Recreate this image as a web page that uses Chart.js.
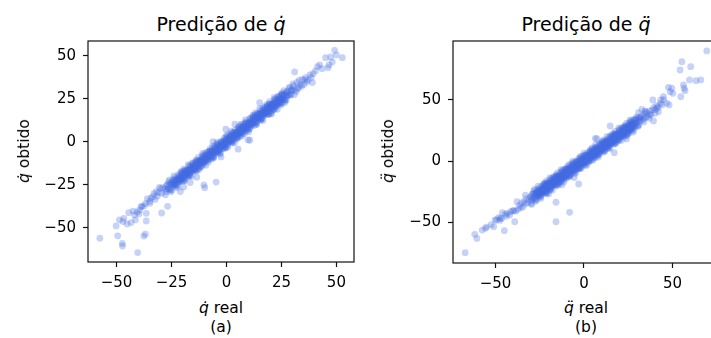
<!DOCTYPE html>
<html>
<head>
<meta charset="utf-8">
<script src="https://cdn.jsdelivr.net/npm/chart.js@4.4.1/dist/chart.umd.min.js"></script>
<style>
  html, body { margin:0; padding:0; background:#fff; }
  body { width:711px; height:338px; overflow:hidden; position:relative; font-family:"DejaVu Sans", sans-serif; color:#000; }
  canvas { position:absolute; }
  .txt { position:absolute; white-space:nowrap; text-align:center; }
  .title { font-size:19px; line-height:22px; width:240px; }
  .lab { font-size:15.5px; line-height:20px; width:160px; }
  .ylab { font-size:15.5px; line-height:20px; transform:translate(-50%,-50%) rotate(-90deg); }
  i { font-style:italic; }
</style>
</head>
<body>
<canvas id="chartA" width="335" height="260" style="left:30px;top:35px"></canvas>
<canvas id="chartB" width="340" height="261" style="left:395px;top:35px"></canvas>

<div class="txt title" style="left:101px;top:13px">Predição de <i>q̇</i></div>
<div class="txt title" style="left:466px;top:13px">Predição de <i>q̈</i></div>
<div class="txt lab" style="left:141px;top:298px"><i>q̇</i> real</div>
<div class="txt lab" style="left:141px;top:317px">(a)</div>
<div class="txt lab" style="left:506px;top:298px"><i>q̈</i> real</div>
<div class="txt lab" style="left:506px;top:317px">(b)</div>
<div class="txt ylab" style="left:24px;top:151px"><i>q̇</i> obtido</div>
<div class="txt ylab" style="left:388px;top:151px"><i>q̈</i> obtido</div>

<script>
// ── (a) velocidade: q̇ real vs q̇ obtido ──────────────────────────────
const ticksXA = [-50, -25, 0, 25, 50];
const ticksYA = [-50, -25, 0, 25, 50];

const coreRealA = [
  -28,-27.5,-27,-26.5,-26,-25.5,-25,-24.5,-24,-23.5,
  -23,-22.5,-22,-21.5,-21,-20.5,-20,-19.5,-19,-18.5,
  -18,-17.5,-17,-16.5,-16,-15.5,-15,-14.5,-14,-13.5,
  -13,-12.5,-12,-11.5,-11,-10.5,-10,-9.5,-9,-8.5,
  -8,-7.5,-7,-6.5,-6,-5.5,-5,-4.5,-4,-3.5,
  -3,-2.5,-2,-1.5,-1,-0.5,0,0.5,1,1.5,
  2,2.5,3,3.5,4,4.5,5,5.5,6,6.5,
  7,7.5,8,8.5,9,9.5,10,10.5,11,11.5,
  12,12.5,13,13.5,14,14.5,15,15.5,16,16.5,
  17,17.5,18,18.5,19,19.5,20,20.5,21,21.5,
  22,22.5,23,23.5,24,24.5,25,25.5,26,26.5,
  27,27.5,28,28.5,29,29.5,30,
  -27.8,-27.3,-26.8,-26.3,-25.8,-25.3,-24.8,-24.3,-23.8,-23.3,
  -22.8,-22.3,-21.8,-21.3,-20.8,-20.3,-19.8,-19.3,-18.8,-18.3,
  -17.8,-17.3,-16.8,-16.3,-15.8,-15.3,-14.8,-14.3,-13.8,-13.3,
  -12.8,-12.3,-11.8,-11.3,-10.8,-10.3,-9.8,-9.3,-8.8,-8.3,
  -7.8,-7.3,-6.8,-6.3,-5.8,-5.3,-4.8,-4.3,-3.8,-3.3,
  -2.8,-2.3,-1.8,-1.3,-0.8,-0.3,0.2,0.7,1.2,1.7,
  2.2,2.7,3.2,3.7,4.2,4.7,5.2,5.7,6.2,6.7,
  7.2,7.7,8.2,8.7,9.2,9.7,10.2,10.7,11.2,11.7,
  12.2,12.7,13.2,13.7,14.2,14.7,15.2,15.7,16.2,16.7,
  17.2,17.7,18.2,18.7,19.2,19.7,20.2,20.7,21.2,21.7,
  22.2,22.7,23.2,23.7,24.2,24.7,25.2,25.7,26.2,26.7,
  27.2,27.7,28.2,28.7,29.2,29.7
];
const corePredA = [
  -27.2,-28.9,-24.9,-27,-24.5,-27.8,-24.8,-23.4,-25,-20.9,
  -24.8,-22,-22.2,-20.7,-22.4,-18.4,-20.5,-18,-21.3,-18.3,
  -16.9,-18.5,-14.4,-18.3,-15.5,-15.7,-14.2,-15.9,-11.9,-14,
  -11.5,-14.8,-11.8,-10.4,-12,-7.9,-11.8,-9,-9.2,-7.7,
  -9.4,-5.4,-7.5,-5,-8.3,-5.3,-3.9,-5.5,-1.4,-5.3,
  -2.5,-2.7,-1.2,-2.9,1.1,-1,1.5,-1.8,1.2,2.6,
  1,5.1,1.2,4,3.8,5.3,3.6,7.6,5.5,8,
  4.7,7.7,9.1,7.5,11.6,7.7,10.5,10.3,11.8,10.1,
  14.1,12,14.5,11.2,14.2,15.6,14,18.1,14.2,17,
  16.8,18.3,16.6,20.6,18.5,21,17.7,20.7,22.1,20.5,
  24.6,20.7,23.5,23.3,24.8,23.1,27.1,25,27.5,24.2,
  27.2,28.6,27,31.1,27.2,30,29.8,
  -30.7,-25.4,-27.5,-23.1,-27.4,-24.4,-28.1,-21.9,-23.9,-22,
  -25,-25.2,-19.9,-22,-17.6,-21.9,-18.9,-22.6,-16.4,-18.4,
  -16.5,-19.5,-19.7,-14.4,-16.5,-12.1,-16.4,-13.4,-17.1,-10.9,
  -12.9,-11,-14,-14.2,-8.9,-11,-6.6,-10.9,-7.9,-11.6,
  -5.4,-7.4,-5.5,-8.5,-8.7,-3.4,-5.5,-1.1,-5.4,-2.4,
  -6.1,0.1,-1.9,0,-3,-3.2,2.1,0,4.4,0.1,
  3.1,-0.6,5.6,3.6,5.5,2.5,2.3,7.6,5.5,9.9,
  5.6,8.6,4.9,11.1,9.1,11,8,7.8,13.1,11,
  15.4,11.1,14.1,10.4,16.6,14.6,16.5,13.5,13.3,18.6,
  16.5,20.9,16.6,19.6,15.9,22.1,20.1,22,19,18.8,
  24.1,22,26.4,22.1,25.1,21.4,27.6,25.6,27.5,24.5,
  24.3,29.6,27.5,31.9,27.6,30.6
];
const denseRealA = [
  -25.9,-25.4,-24.9,-24.4,-23.9,-23.4,-22.9,-22.4,-21.9,-21.4,
  -20.9,-20.4,-19.9,-19.4,-18.9,-18.4,-17.9,-17.4,-16.9,-16.4,
  -15.9,-15.4,-14.9,-14.4,-13.9,-13.4,-12.9,-12.4,-11.9,-11.4,
  -10.9,-10.4,-9.9,-9.4,-8.9,-8.4,-7.9,-7.4,-6.9,-6.4,
  -5.9,-5.4,-4.9,-4.4,-3.9,-3.4,-2.9,-2.4,-1.9,-1.4,
  -0.9,-0.4,0.1,0.6,1.1,1.6,2.1,2.6,3.1,3.6,
  4.1,4.6,5.1,5.6,6.1,6.6,7.1,7.6,8.1,8.6,
  9.1,9.6,10.1,10.6,11.1,11.6,12.1,12.6,13.1,13.6,
  14.1,14.6,15.1,15.6,16.1,16.6,17.1,17.6,18.1,18.6,
  19.1,19.6,20.1,20.6,21.1,21.6,22.1,22.6,23.1,23.6,
  24.1,24.6,25.1,25.6,26.1,26.6,27.1,27.6,
  -21.6,-21.1,-20.6,-20.1,-19.6,-19.1,-18.6,-18.1,-17.6,-17.1,
  -16.6,-16.1,-15.6,-15.1,-14.6,-14.1,-13.6,-13.1,-12.6,-12.1,
  -11.6,-11.1,-10.6,-10.1,-9.6,-9.1,-8.6,-8.1,-7.6,-7.1,
  -6.6,-6.1,-5.6,-5.1,-4.6,-4.1,-3.6,-3.1,-2.6,-2.1,
  -1.6,-1.1,-0.6,-0.1,0.4,0.9,1.4,1.9,2.4,2.9,
  3.4,3.9,4.4,4.9,5.4,5.9,6.4,6.9,7.4,7.9,
  8.4,8.9,9.4,9.9,10.4,10.9,11.4,11.9,12.4,12.9,
  13.4,13.9,14.4,14.9,15.4,15.9,16.4,16.9,17.4,17.9,
  18.4,18.9,19.4,19.9,20.4,20.9,21.4,21.9,22.4,22.9,
  23.4,23.9,24.4,24.9,25.4,
  -24.2,-23.7,-23.2,-22.7,-22.2,-21.7,-21.2,-20.7,-20.2,-19.7,
  -19.2,-18.7,-18.2,-17.7,-17.2,-16.7,-16.2,-15.7,-15.2,-14.7,
  -14.2,-13.7,-13.2,-12.7,-12.2,-11.7,-11.2,-10.7,-10.2,-9.7,
  -9.2,-8.7,-8.2,-7.7,-7.2,-6.7,-6.2,-5.7,-5.2,-4.7,
  -4.2,-3.7,-3.2,-2.7,-2.2,-1.7,-1.2,-0.7,-0.2,0.3,
  0.8,1.3,1.8,2.3,2.8,3.3,3.8,4.3,4.8,5.3,
  5.8,6.3,6.8,7.3,7.8,8.3,8.8,9.3,9.8,10.3,
  10.8,11.3,11.8,12.3,12.8,13.3,13.8,14.3,14.8,15.3,
  15.8,16.3,16.8,17.3,17.8,18.3,18.8,19.3,19.8,20.3,
  20.8,21.3,21.8,22.3,22.8,23.3,23.8,24.3,24.8,25.3,
  25.8
];
const densePredA = [
  -22.1,-28.9,-23.3,-25.3,-19.7,-26,-22.3,-26.5,-19,-23.3,
  -20.9,-17.1,-22.9,-15.6,-22.4,-16.8,-18.8,-13.2,-19.5,-15.8,
  -20,-12.5,-16.8,-14.4,-10.6,-16.4,-9.1,-15.9,-10.3,-12.3,
  -6.7,-13,-9.3,-13.5,-6,-10.3,-7.9,-4.1,-9.9,-2.6,
  -9.4,-3.8,-5.8,-0.2,-6.5,-2.8,-7,0.5,-3.8,-1.4,
  2.4,-3.4,3.9,-2.9,2.7,0.7,6.3,0,3.7,-0.5,
  7,2.7,5.1,8.9,3.1,10.4,3.6,9.2,7.2,12.8,
  6.5,10.2,6,13.5,9.2,11.6,15.4,9.6,16.9,10.1,
  15.7,13.7,19.3,13,16.7,12.5,20,15.7,18.1,21.9,
  16.1,23.4,16.6,22.2,20.2,25.8,19.5,23.2,19,26.5,
  22.2,24.6,28.4,22.6,29.9,23.1,28.7,26.7,
  -22.8,-20.4,-21,-18.2,-21.6,-16.7,-19.4,-17.1,-20.4,-16.8,
  -13.6,-17.3,-14.9,-15.5,-12.7,-16.1,-11.2,-13.9,-11.6,-14.9,
  -11.3,-8.1,-11.8,-9.4,-10,-7.2,-10.6,-5.7,-8.4,-6.1,
  -9.4,-5.8,-2.6,-6.3,-3.9,-4.5,-1.7,-5.1,-0.2,-2.9,
  -0.6,-3.9,-0.3,2.9,-0.8,1.6,1,3.8,0.4,5.3,
  2.6,4.9,1.6,5.2,8.4,4.7,7.1,6.5,9.3,5.9,
  10.8,8.1,10.4,7.1,10.7,13.9,10.2,12.6,12,14.8,
  11.4,16.3,13.6,15.9,12.6,16.2,19.4,15.7,18.1,17.5,
  20.3,16.9,21.8,19.1,21.4,18.1,21.7,24.9,21.2,23.6,
  23,25.8,22.4,27.3,24.6,
  -23.9,-24.6,-22,-22.9,-21.5,-23.1,-20.3,-21.3,-18.7,-20.8,
  -19.1,-18.4,-19.1,-16.5,-17.4,-16,-17.6,-14.8,-15.8,-13.2,
  -15.3,-13.6,-12.9,-13.6,-11,-11.9,-10.5,-12.1,-9.3,-10.3,
  -7.7,-9.8,-8.1,-7.4,-8.1,-5.5,-6.4,-5,-6.6,-3.8,
  -4.8,-2.2,-4.3,-2.6,-1.9,-2.6,0,-0.9,0.5,-1.1,
  1.7,0.7,3.3,1.2,2.9,3.6,2.9,5.5,4.6,6,
  4.4,7.2,6.2,8.8,6.7,8.4,9.1,8.4,11,10.1,
  11.5,9.9,12.7,11.7,14.3,12.2,13.9,14.6,13.9,16.5,
  15.6,17,15.4,18.2,17.2,19.8,17.7,19.4,20.1,19.4,
  22,21.1,22.5,20.9,23.7,22.7,25.3,23.2,24.9,25.6,
  24.9
];
const tailRealA = [
  -29,-29.5,-30,-30.5,-31,-31.5,-32,-32.5,-33,-33.5,
  -34.3,-34.8,-35,-36,-36.8,-37.5,-38.5,-38.8,-39.5,-39.8,
  -40.6,-41.4,-41.8,-42.5,-43.4,-44.5,-45.2,-46.7,-47.1,-48.7,
  -50.2,-36.5,-36.5,
  30.5,30.8,31.2,31.7,32,32.5,32.8,33.1,33.6,34.2,
  34.5,35.2,35.7,36,36.5,37.1,37.9,38.6,39.1,39.4,
  40.5,41.4,42.4,43.5,45.1,46.2,46.6,47.4,48.1,49.2,
  50,52.7,30.2
];
const tailPredA = [
  -26.6,-29.8,-27.2,-26.4,-29.5,-31.5,-28.9,-33.4,-30,-31.8,
  -32.7,-35.6,-34.5,-33,-35.8,-37.2,-37.6,-37.6,-39.5,-41.8,
  -40.7,-45.3,-42.4,-40.2,-46.9,-41.1,-47.7,-44.4,-46.3,-45.3,
  -48.8,-41.5,-45.9,
  32.6,27.5,30.4,29.2,34.6,31,31.8,35.8,33.2,32.4,
  36.3,33.4,36.1,37.4,34.8,35.9,39,37.5,34.5,39.7,
  41.3,43.8,44.8,42.6,49,43.2,44.8,49.4,46.5,53.3,
  50.6,49,33.8
];
const outRealA = [-57.6,-40.4,-47.4,-47.3,-49.5,-37.6,-36.9,-29.5,-26.8,-10.3,
  -9.9,-4.7,-16.5,-21,-19.5,-13.5,31,15.1,10.6,5.3,3.8,-0.3,9.8,-6.1,-2.5,20.5];
const outPredA = [-56,-64.3,-59,-60.5,-54.6,-54.7,-53.6,-41.3,-37.4,-25,
  -26.6,-23.3,-23.6,-28.8,-26.2,-20.5,40.7,22.8,1,-4.2,10.3,7.4,1.2,0.2,-8.7,16.3];

// ── (b) aceleração: q̈ real vs q̈ obtido ──────────────────────────────
const ticksXB = [-50, 0, 50];
const ticksYB = [-50, 0, 50];

const coreRealB = [
  -30,-29.5,-29,-28.5,-28,-27.5,-27,-26.5,-26,-25.5,
  -25,-24.5,-24,-23.5,-23,-22.5,-22,-21.5,-21,-20.5,
  -20,-19.5,-19,-18.5,-18,-17.5,-17,-16.5,-16,-15.5,
  -15,-14.5,-14,-13.5,-13,-12.5,-12,-11.5,-11,-10.5,
  -10,-9.5,-9,-8.5,-8,-7.5,-7,-6.5,-6,-5.5,
  -5,-4.5,-4,-3.5,-3,-2.5,-2,-1.5,-1,-0.5,
  0,0.5,1,1.5,2,2.5,3,3.5,4,4.5,
  5,5.5,6,6.5,7,7.5,8,8.5,9,9.5,
  10,10.5,11,11.5,12,12.5,13,13.5,14,14.5,
  15,15.5,16,16.5,17,17.5,18,18.5,19,19.5,
  20,20.5,21,21.5,22,22.5,23,23.5,24,24.5,
  25,25.5,26,26.5,27,27.5,28,28.5,29,29.5,
  30,30.5,31,31.5,32,
  -29.8,-29.3,-28.8,-28.3,-27.8,-27.3,-26.8,-26.3,-25.8,-25.3,
  -24.8,-24.3,-23.8,-23.3,-22.8,-22.3,-21.8,-21.3,-20.8,-20.3,
  -19.8,-19.3,-18.8,-18.3,-17.8,-17.3,-16.8,-16.3,-15.8,-15.3,
  -14.8,-14.3,-13.8,-13.3,-12.8,-12.3,-11.8,-11.3,-10.8,-10.3,
  -9.8,-9.3,-8.8,-8.3,-7.8,-7.3,-6.8,-6.3,-5.8,-5.3,
  -4.8,-4.3,-3.8,-3.3,-2.8,-2.3,-1.8,-1.3,-0.8,-0.3,
  0.2,0.7,1.2,1.7,2.2,2.7,3.2,3.7,4.2,4.7,
  5.2,5.7,6.2,6.7,7.2,7.7,8.2,8.7,9.2,9.7,
  10.2,10.7,11.2,11.7,12.2,12.7,13.2,13.7,14.2,14.7,
  15.2,15.7,16.2,16.7,17.2,17.7,18.2,18.7,19.2,19.7,
  20.2,20.7,21.2,21.7,22.2,22.7,23.2,23.7,24.2,24.7,
  25.2,25.7,26.2,26.7,27.2,27.7,28.2,28.7,29.2,29.7,
  30.2,30.7,31.2,31.7
];
const corePredB = [
  -29.6,-32.2,-26.8,-29.8,-26.5,-31.3,-27.3,-25.6,-27.9,-22.4,
  -28,-24.3,-24.8,-22.8,-25.4,-20,-23.1,-19.8,-24.5,-20.5,
  -18.8,-21.2,-15.7,-21.2,-17.5,-18,-16.1,-18.7,-13.2,-16.3,
  -13,-17.8,-13.8,-12,-14.4,-8.9,-14.5,-10.8,-11.2,-9.3,
  -11.9,-6.5,-9.6,-6.2,-11,-7,-5.3,-7.7,-2.1,-7.7,
  -4,-4.5,-2.6,-5.1,0.3,-2.8,0.5,-4.3,-0.2,1.5,
  -0.9,4.6,-1,2.8,2.3,4.2,1.6,7,4,7.3,
  2.5,6.5,8.2,5.9,11.4,5.8,9.5,9,11,8.4,
  13.8,10.7,14,9.3,13.3,15,12.6,18.1,12.6,16.3,
  15.8,17.7,15.1,20.6,17.5,20.8,16,20,21.8,19.4,
  24.9,19.3,23,22.6,24.5,21.9,27.3,24.2,27.6,22.8,
  26.8,28.5,26.1,31.7,26.1,29.8,29.3,31.2,28.7,34.1,
  31,34.3,29.5,33.6,35.3,
  -34.6,-27.3,-30.5,-24.4,-30.6,-26.6,-32,-23.5,-26.4,-24,
  -28.4,-28.9,-21.6,-24.7,-18.7,-24.9,-20.9,-26.3,-17.7,-20.7,
  -18.3,-22.7,-23.2,-15.8,-19,-13,-19.2,-15.2,-20.5,-12,
  -15,-12.6,-17,-17.4,-10.1,-13.3,-7.3,-13.5,-9.4,-14.8,
  -6.3,-9.3,-6.9,-11.2,-11.7,-4.4,-7.6,-1.6,-7.7,-3.7,
  -9.1,-0.6,-3.6,-1.1,-5.5,-6,1.3,-1.9,4.2,-2,
  2,-3.4,5.2,2.2,4.6,0.2,-0.3,7.1,3.9,9.9,
  3.7,7.7,2.4,10.9,7.9,10.3,5.9,5.5,12.8,9.6,
  15.6,9.4,13.5,8.1,16.6,13.6,16,11.7,11.2,18.5,
  15.3,21.3,15.2,19.2,13.8,22.3,19.3,21.8,17.4,16.9,
  24.2,21,27.1,20.9,24.9,19.5,28,25.1,27.5,23.1,
  22.6,29.9,26.8,32.8,26.6,30.6,25.2,33.8,30.8,33.2,
  28.8,28.3,35.7,32.5
];
const denseRealB = [
  -27.9,-27.4,-26.9,-26.4,-25.9,-25.4,-24.9,-24.4,-23.9,-23.4,
  -22.9,-22.4,-21.9,-21.4,-20.9,-20.4,-19.9,-19.4,-18.9,-18.4,
  -17.9,-17.4,-16.9,-16.4,-15.9,-15.4,-14.9,-14.4,-13.9,-13.4,
  -12.9,-12.4,-11.9,-11.4,-10.9,-10.4,-9.9,-9.4,-8.9,-8.4,
  -7.9,-7.4,-6.9,-6.4,-5.9,-5.4,-4.9,-4.4,-3.9,-3.4,
  -2.9,-2.4,-1.9,-1.4,-0.9,-0.4,0.1,0.6,1.1,1.6,
  2.1,2.6,3.1,3.6,4.1,4.6,5.1,5.6,6.1,6.6,
  7.1,7.6,8.1,8.6,9.1,9.6,10.1,10.6,11.1,11.6,
  12.1,12.6,13.1,13.6,14.1,14.6,15.1,15.6,16.1,16.6,
  17.1,17.6,18.1,18.6,19.1,19.6,20.1,20.6,21.1,21.6,
  22.1,22.6,23.1,23.6,24.1,24.6,25.1,25.6,26.1,26.6,
  27.1,27.6,28.1,28.6,29.1,29.6,
  -23.6,-23.1,-22.6,-22.1,-21.6,-21.1,-20.6,-20.1,-19.6,-19.1,
  -18.6,-18.1,-17.6,-17.1,-16.6,-16.1,-15.6,-15.1,-14.6,-14.1,
  -13.6,-13.1,-12.6,-12.1,-11.6,-11.1,-10.6,-10.1,-9.6,-9.1,
  -8.6,-8.1,-7.6,-7.1,-6.6,-6.1,-5.6,-5.1,-4.6,-4.1,
  -3.6,-3.1,-2.6,-2.1,-1.6,-1.1,-0.6,-0.1,0.4,0.9,
  1.4,1.9,2.4,2.9,3.4,3.9,4.4,4.9,5.4,5.9,
  6.4,6.9,7.4,7.9,8.4,8.9,9.4,9.9,10.4,10.9,
  11.4,11.9,12.4,12.9,13.4,13.9,14.4,14.9,15.4,15.9,
  16.4,16.9,17.4,17.9,18.4,18.9,19.4,19.9,20.4,20.9,
  21.4,21.9,22.4,22.9,23.4,23.9,24.4,24.9,25.4,25.9,
  26.4,26.9,27.4,
  -26.2,-25.7,-25.2,-24.7,-24.2,-23.7,-23.2,-22.7,-22.2,-21.7,
  -21.2,-20.7,-20.2,-19.7,-19.2,-18.7,-18.2,-17.7,-17.2,-16.7,
  -16.2,-15.7,-15.2,-14.7,-14.2,-13.7,-13.2,-12.7,-12.2,-11.7,
  -11.2,-10.7,-10.2,-9.7,-9.2,-8.7,-8.2,-7.7,-7.2,-6.7,
  -6.2,-5.7,-5.2,-4.7,-4.2,-3.7,-3.2,-2.7,-2.2,-1.7,
  -1.2,-0.7,-0.2,0.3,0.8,1.3,1.8,2.3,2.8,3.3,
  3.8,4.3,4.8,5.3,5.8,6.3,6.8,7.3,7.8,8.3,
  8.8,9.3,9.8,10.3,10.8,11.3,11.8,12.3,12.8,13.3,
  13.8,14.3,14.8,15.3,15.8,16.3,16.8,17.3,17.8,18.3,
  18.8,19.3,19.8,20.3,20.8,21.3,21.8,22.3,22.8,23.3,
  23.8,24.3,24.8,25.3,25.8,26.3,26.8,27.3,27.8
];
const densePredB = [
  -23.2,-32.9,-25.3,-28.3,-20.5,-29.5,-24.6,-30.6,-20.3,-26.5,
  -23.3,-18.2,-26.5,-16.5,-26.1,-18.5,-21.5,-13.8,-22.8,-17.8,
  -23.8,-13.5,-19.8,-16.6,-11.4,-19.7,-9.7,-19.4,-11.8,-14.7,
  -7,-16,-11.1,-17.1,-6.7,-13,-9.8,-4.7,-13,-2.9,
  -12.6,-5,-8,-0.3,-9.2,-4.3,-10.3,0,-6.3,-3,
  2.1,-6.2,3.8,-5.9,1.8,-1.2,6.5,-2.5,2.4,-3.5,
  6.8,0.5,3.7,8.8,0.6,10.6,0.9,8.5,5.5,13.3,
  4.3,9.2,3.2,13.5,7.3,10.5,15.6,7.3,17.3,7.7,
  15.3,12.3,20,11,16,10,20.3,14,17.2,22.4,
  14.1,24.1,14.4,22,19.1,26.8,17.8,22.7,16.7,27.1,
  20.8,24,29.1,20.8,30.9,21.2,28.8,25.8,33.5,24.6,
  29.5,23.5,33.8,27.5,30.8,35.9,
  -25.7,-22.5,-23.6,-19.8,-24.8,-18,-22,-19,-23.8,-19,
  -14.6,-20,-16.8,-17.9,-14.1,-19,-12.3,-16.3,-13.3,-18.1,
  -13.2,-8.9,-14.3,-11.1,-12.2,-8.3,-13.3,-6.6,-10.6,-7.6,
  -12.3,-7.5,-3.2,-8.6,-5.4,-6.4,-2.6,-7.6,-0.9,-4.9,
  -1.8,-6.6,-1.8,2.5,-2.9,0.4,-0.7,3.1,-1.9,4.8,
  0.9,3.9,-0.9,3.9,8.2,2.9,6.1,5,8.8,3.8,
  10.6,6.6,9.6,4.8,9.6,14,8.6,11.8,10.7,14.5,
  9.6,16.3,12.3,15.3,10.5,15.4,19.7,14.3,17.5,16.4,
  20.3,15.3,22,18,21,16.3,21.1,25.4,20,23.2,
  22.2,26,21,27.7,23.7,26.8,22,26.8,31.1,25.7,
  29,27.9,31.7,
  -26.4,-27.5,-24,-25.5,-23.7,-26.2,-22.3,-23.9,-20.5,-23.6,
  -21.5,-20.6,-21.8,-18.3,-19.8,-18,-20.4,-16.6,-18.2,-14.8,
  -17.9,-15.7,-14.9,-16.1,-12.6,-14,-12.2,-14.7,-10.9,-12.5,
  -9,-12.1,-10,-9.2,-10.4,-6.9,-8.3,-6.5,-9,-5.2,
  -6.8,-3.3,-6.4,-4.3,-3.5,-4.7,-1.1,-2.6,-0.8,-3.3,
  0.6,-1,2.4,-0.7,1.4,2.3,1.1,4.6,3.1,4.9,
  2.5,6.3,4.7,8.1,5,7.2,8,6.8,10.3,8.8,
  10.7,8.2,12,10.4,13.8,10.8,12.9,13.7,12.5,16,
  14.6,16.4,13.9,17.7,16.1,19.6,16.5,18.6,19.4,18.2,
  21.8,20.3,22.1,19.6,23.4,21.9,25.3,22.2,24.3,25.1,
  24,27.5,26,27.8,25.3,29.2,27.6,31,27.9
];
const tailRealB = [
  -31,-31.8,-32.5,-33.2,-33.8,-34.5,-35.2,-35.8,-36.5,-37.8,
  -37.3,-38.6,-39.7,-40.2,-41.4,-42,-43.4,-43.8,-44.5,-46.1,
  -46.5,-47.2,-47.5,-48.2,-49.5,-50.2,-52.5,-51,-55,-55.7,
  -57.5,-60.5,-61.7,-33.1,-30.3,
  32.5,33.2,34,34.8,35.5,36.2,37,37.8,38.5,39.4,
  40.3,41,42,43.2,44.1,45,33.8,36.8,30.8,32.7,
  34.6,39.3,33.6,34.6,37.4,40.2,41.2,42.1,38.9,43.4,
  44.9,46.8,48.1,47.7,48.7,49.6,50.2,54.7,56.2,56.6,
  57.1,59.6,63.3,66,55.3,54.3,60.3,69.4
];
const tailPredB = [
  -31.5,-34,-30.8,-35.2,-33,-37.5,-34.2,-38.2,-36.3,-33.2,
  -39.5,-41,-40.6,-40.5,-41.4,-44,-42.7,-45.2,-43.5,-42.2,
  -47,-46.8,-48.5,-46.2,-48.2,-48.2,-52,-53.7,-54,-55,
  -56.4,-63.2,-59.9,-27.8,-29.2,
  36.8,33.5,38.2,35.6,39.3,36.5,40.8,38.1,41.6,43.5,
  41.9,45.2,44.1,47,45.8,50.1,31.9,34.9,39.5,42.2,
  40.8,32.7,34.9,40.3,37.6,39,43,40.3,49.8,49.8,
  52.5,47.2,45.8,60.2,56.6,59.4,55.3,52.5,62.1,59.4,
  57.4,66.2,65.6,66.2,81.1,74.3,77,89.9
];
const outRealB = [-67.1,-45,-39.1,-15.8,-15.8,-8.1,-3,17.1,14.8,6.4,7.3,-29.6,-12.5,-5.5,24,-20];
const outPredB = [-74.9,-56.9,-49.6,-33.7,-49.6,-41.9,-18.8,6.8,28.6,18.5,18.2,-35.5,-19.5,-13.5,18,-27];

// ── helpers ───────────────────────────────────────────────────────────
function zip(xs, ys) { return xs.map((x, i) => ({ x, y: ys[i] })); }
const minus = v => (v < 0 ? '\u2212' + Math.abs(v) : String(v));

const framePlugin = {
  id: 'frame',
  afterDatasetsDraw(chart) {
    const { ctx, chartArea: a } = chart;
    ctx.save();
    ctx.strokeStyle = '#111';
    ctx.lineWidth = 1.2;
    ctx.strokeRect(a.left, a.top, a.right - a.left, a.bottom - a.top);
    ctx.restore();
  },
};

// fixed axis size, and no extra room for overflowing tick labels
function axis(min, max, ticks, fitKey, fitVal) {
  return {
    type: 'linear', min, max,
    afterBuildTicks: s => { s.ticks = ticks.map(v => ({ value: v })); },
    afterFit: s => {
      s[fitKey] = fitVal;
      s.paddingTop = 0; s.paddingBottom = 0; s.paddingLeft = 0; s.paddingRight = 0;
    },
    grid: { display: true, drawOnChartArea: false, drawTicks: true, tickLength: 5, tickColor: '#111', tickWidth: 1.2 },
    border: { display: false },
    ticks: { color: '#000', padding: 7, font: { family: 'DejaVu Sans', size: 15 }, callback: minus, maxRotation: 0, autoSkip: false },
  };
}

function scatter(id, points, xr, yr, xt, yt, padRight) {
  return new Chart(document.getElementById(id), {
    type: 'scatter',
    data: { datasets: [{
      data: points,
      backgroundColor: 'rgba(65,105,225,0.3)',
      borderWidth: 0,
      pointRadius: 3.4,
      clip: 0,
    }] },
    options: {
      responsive: false, animation: false, devicePixelRatio: 1,
      layout: { padding: { left: 0, top: 6, right: padRight, bottom: 0 } },
      plugins: { legend: { display: false }, tooltip: { enabled: false } },
      scales: {
        x: axis(xr[0], xr[1], xt, 'height', 33),
        y: axis(yr[0], yr[1], yt, 'width', 58),
      },
    },
    plugins: [framePlugin],
  });
}

scatter('chartA',
  zip(coreRealA, corePredA).concat(zip(denseRealA, densePredA), zip(tailRealA, tailPredA), zip(outRealA, outPredA)),
  [-63, 58], [-69.8, 58.7], ticksXA, ticksYA, 11);
scatter('chartB',
  zip(coreRealB, corePredB).concat(zip(denseRealB, densePredB), zip(tailRealB, tailPredB), zip(outRealB, outPredB)),
  [-74, 76.3], [-83.3, 98], ticksXB, ticksYB, 16);
</script>
</body>
</html>
